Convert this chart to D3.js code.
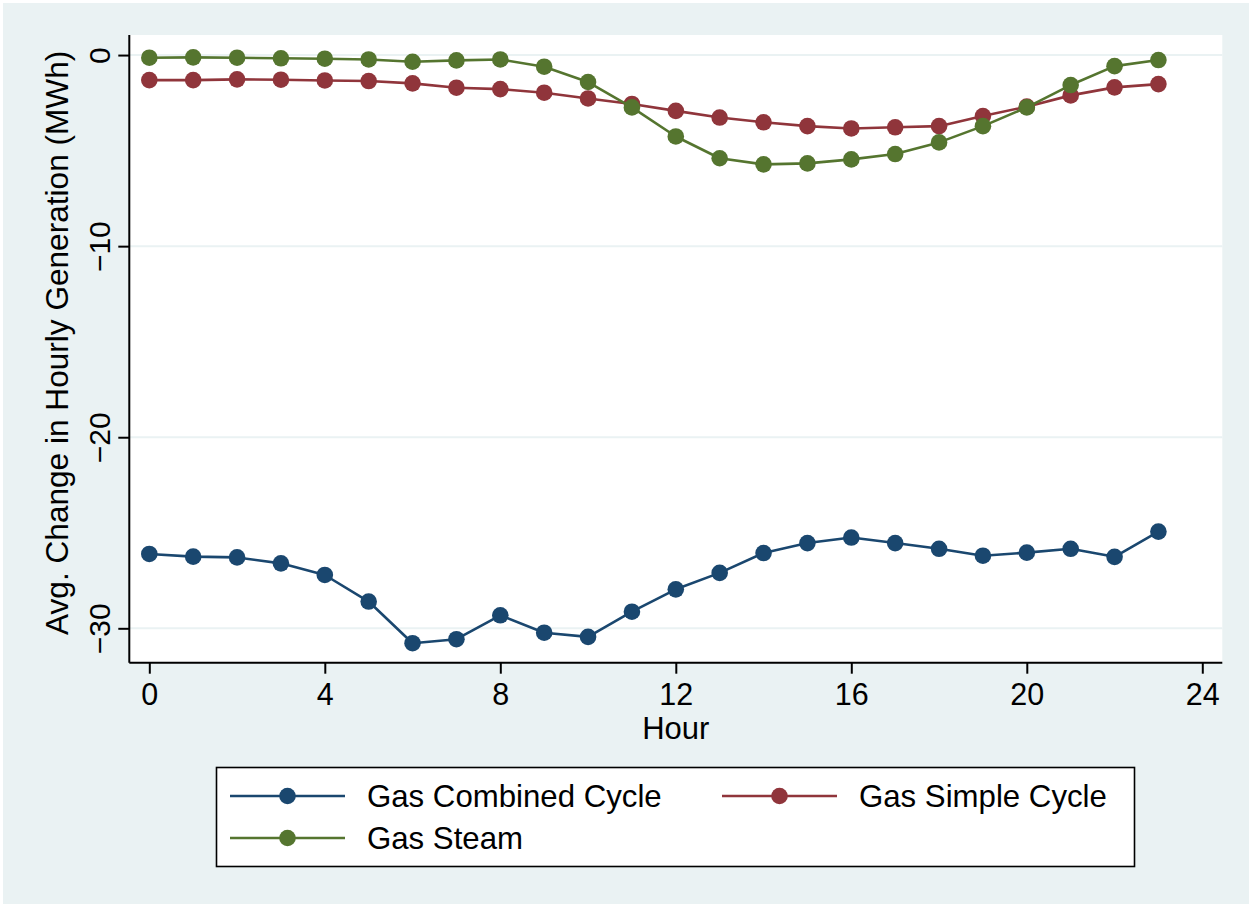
<!DOCTYPE html>
<html>
<head>
<meta charset="utf-8">
<script src="https://cdn.jsdelivr.net/npm/d3@7"></script>
<style>
  html, body { margin: 0; padding: 0; background: #ffffff; }
  svg { display: block; }
  text { font-family: "Liberation Sans", Arial, Helvetica, sans-serif; fill: #000; }
</style>
</head>
<body>
<svg id="chart" width="1252" height="907"></svg>
<script>
// Hours of the day
const hours = d3.range(0, 24);

// Average change in hourly generation (MWh) by technology
const combinedCycle = [-26.11, -26.25, -26.29, -26.60, -27.21, -28.60, -30.78, -30.57, -29.32, -30.23, -30.45, -29.13,
                       -27.96, -27.10, -26.06, -25.54, -25.25, -25.54, -25.84, -26.20, -26.04, -25.84, -26.26, -24.94];
const simpleCycle   = [-1.31, -1.31, -1.27, -1.29, -1.33, -1.36, -1.48, -1.71, -1.78, -1.97, -2.27, -2.56,
                       -2.92, -3.27, -3.52, -3.72, -3.84, -3.78, -3.72, -3.19, -2.70, -2.11, -1.69, -1.52];
const steam         = [-0.14, -0.12, -0.14, -0.17, -0.19, -0.23, -0.35, -0.28, -0.23, -0.61, -1.41, -2.74,
                       -4.26, -5.40, -5.72, -5.67, -5.46, -5.18, -4.57, -3.72, -2.74, -1.57, -0.58, -0.26];

const seriesNames  = ["Gas Combined Cycle", "Gas Simple Cycle", "Gas Steam"];
const seriesColors = ["#1a476f", "#90353b", "#55752f"];
const seriesValues = [combinedCycle, simpleCycle, steam];

const xTicks = [0, 4, 8, 12, 16, 20, 24];
const yTicks = [0, -10, -20, -30];

const xTitle = "Hour";
const yTitle = "Avg. Change in Hourly Generation (MWh)";

const svg = d3.select("#chart");
const W = 1252, H = 907;

// graph region background
svg.append("rect").attr("x", 3).attr("y", 3).attr("width", W - 6).attr("height", H - 6)
  .attr("fill", "#eaf2f3");

// plot region
const plot = { left: 129.3, right: 1222.3, top: 35, bottom: 662.7 };
svg.append("rect")
  .attr("x", plot.left).attr("y", plot.top)
  .attr("width", plot.right - plot.left).attr("height", plot.bottom - plot.top)
  .attr("fill", "#ffffff");

const x = d3.scaleLinear().domain([-0.456, 24.456]).range([plot.left, plot.right]);
const y = d3.scaleLinear().domain([1.05, -31.8]).range([plot.top, plot.bottom]);

// horizontal grid lines
svg.append("g").selectAll("line").data(yTicks).join("line")
  .attr("x1", plot.left).attr("x2", plot.right)
  .attr("y1", d => y(d)).attr("y2", d => y(d))
  .attr("stroke", "#eaf2f3").attr("stroke-width", 2);

// y axis
const yAxis = svg.append("g")
  .attr("transform", `translate(${plot.left},0)`)
  .call(d3.axisLeft(y).tickValues(yTicks).tickSize(11).tickSizeOuter(0)
        .tickFormat(d => d < 0 ? "\u2212" + Math.abs(d) : String(d)));
yAxis.select(".domain").attr("stroke", "#000").attr("stroke-width", 2)
  .attr("d", `M0,${plot.top}V${plot.bottom}`);
yAxis.selectAll(".tick line").attr("stroke", "#000").attr("stroke-width", 2);
yAxis.selectAll(".tick text")
  .attr("x", 0).attr("y", -19).attr("dy", 0)
  .attr("transform", "rotate(-90)")
  .attr("text-anchor", "middle")
  .style("font-size", "30px")
  .style("font-family", "'Liberation Sans', Arial, sans-serif")
  .attr("fill", "#000");

// x axis
const xAxis = svg.append("g")
  .attr("transform", `translate(0,${plot.bottom})`)
  .call(d3.axisBottom(x).tickValues(xTicks).tickSize(11).tickSizeOuter(0));
xAxis.select(".domain").attr("stroke", "#000").attr("stroke-width", 2)
  .attr("d", `M${plot.left},0H${plot.right}`);
xAxis.selectAll(".tick line").attr("stroke", "#000").attr("stroke-width", 2);
xAxis.selectAll(".tick text")
  .attr("y", 42).attr("dy", 0)
  .style("font-size", "30.5px")
  .style("font-family", "'Liberation Sans', Arial, sans-serif")
  .attr("fill", "#000");

// axis titles
svg.append("text")
  .attr("x", (x(0) + x(24)) / 2).attr("y", 739)
  .attr("text-anchor", "middle")
  .style("font-size", "31px")
  .text(xTitle);

svg.append("text")
  .attr("transform", `translate(68,${(plot.top + plot.bottom) / 2 - 6}) rotate(-90)`)
  .attr("text-anchor", "middle")
  .style("font-size", "31.6px")
  .text(yTitle);

// series lines and markers
const line = d3.line().x((d, i) => x(hours[i])).y(d => y(d));
seriesValues.forEach((vals, k) => {
  const g = svg.append("g");
  g.append("path").datum(vals)
    .attr("d", line)
    .attr("fill", "none")
    .attr("stroke", seriesColors[k])
    .attr("stroke-width", 2.6)
    .attr("stroke-linejoin", "round");
  g.selectAll("circle").data(vals).join("circle")
    .attr("cx", (d, i) => x(hours[i]))
    .attr("cy", d => y(d))
    .attr("r", 8.3)
    .attr("fill", seriesColors[k]);
});

// legend
const legend = svg.append("g");
legend.append("rect")
  .attr("x", 216.5).attr("y", 767.5).attr("width", 918).attr("height", 99)
  .attr("fill", "#ffffff").attr("stroke", "#000").attr("stroke-width", 1.6);

const legendSlots = [
  { lx: 230, ly: 796 },
  { lx: 722, ly: 796 },
  { lx: 230, ly: 838 }
];
seriesNames.forEach((name, k) => {
  const s = legendSlots[k];
  legend.append("line")
    .attr("x1", s.lx).attr("x2", s.lx + 115)
    .attr("y1", s.ly).attr("y2", s.ly)
    .attr("stroke", seriesColors[k]).attr("stroke-width", 2.6);
  legend.append("circle")
    .attr("cx", s.lx + 57.5).attr("cy", s.ly).attr("r", 8.3)
    .attr("fill", seriesColors[k]);
  legend.append("text")
    .attr("x", s.lx + 137).attr("y", s.ly + 11)
    .style("font-size", "31.2px")
    .text(name);
});
</script>
</body>
</html>
